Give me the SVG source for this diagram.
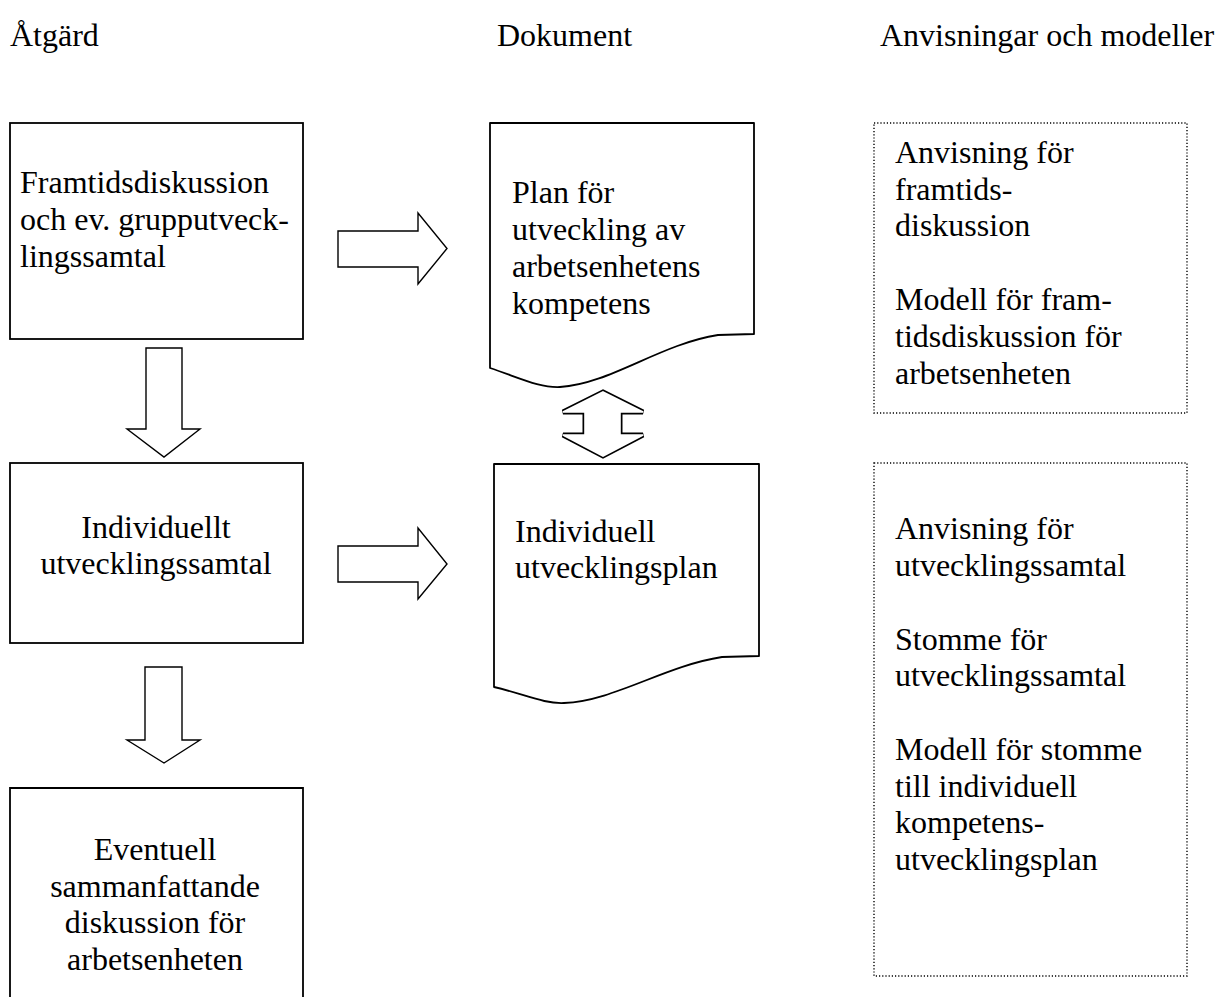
<svg xmlns="http://www.w3.org/2000/svg" width="1218" height="997" viewBox="0 0 1218 997">
  <style>
    text { font-family: "Liberation Serif", "Times New Roman", serif; font-size: 32px; fill: #000; }
    .box { fill: #fff; stroke: #000; stroke-width: 1.8; }
    .doc { fill: #fff; stroke: #000; stroke-width: 1.8; stroke-linejoin: round; }
    .note { fill: #fff; stroke: #000; stroke-width: 1.4; stroke-dasharray: 1.2 2; }
    .arrow { fill: #fff; stroke: #000; stroke-width: 1.4; stroke-linejoin: miter; }
    .mid { text-anchor: middle; }
  </style>

  <!-- column headings -->
  <g id="headings">
    <text x="10" y="46">Åtgärd</text>
    <text x="497" y="46">Dokument</text>
    <text x="880" y="46">Anvisningar och modeller</text>
  </g>

  <!-- actions -->
  <g id="action-framtid">
    <rect class="box" x="10" y="123" width="293" height="216"/>
    <text x="20" y="193">Framtidsdiskussion</text>
    <text x="20" y="230">och ev. grupputveck-</text>
    <text x="20" y="267">lingssamtal</text>
  </g>

  <g id="action-individuellt">
    <rect class="box" x="10" y="463" width="293" height="180"/>
    <text class="mid" x="156" y="538">Individuellt</text>
    <text class="mid" x="156" y="574">utvecklingssamtal</text>
  </g>

  <g id="action-sammanfattande">
    <path class="box" d="M10,1000 V788 H303 V1000"/>
    <text class="mid" x="155" y="860">Eventuell</text>
    <text class="mid" x="155" y="897">sammanfattande</text>
    <text class="mid" x="155" y="933">diskussion för</text>
    <text class="mid" x="155" y="970">arbetsenheten</text>
  </g>

  <!-- documents -->
  <g id="doc-plan">
    <path class="doc" d="M490,123 H754 V334 L718,335 C660,344 610,384 560,387 C540,388 520,378 490,368 Z"/>
    <text x="512" y="203">Plan för</text>
    <text x="512" y="240">utveckling av</text>
    <text x="512" y="277">arbetsenhetens</text>
    <text x="512" y="314">kompetens</text>
  </g>

  <g id="doc-individuell">
    <path class="doc" d="M494,464 H759 V656 L722,657 C664,666 614,701 564,703 C544,704 524,694 494,687 Z"/>
    <text x="515" y="542">Individuell</text>
    <text x="515" y="578">utvecklingsplan</text>
  </g>

  <!-- guidance and models -->
  <g id="notes-framtid">
    <rect class="note" x="874" y="123" width="313" height="290"/>
    <text x="895" y="163">Anvisning för</text>
    <text x="895" y="200">framtids-</text>
    <text x="895" y="236">diskussion</text>
    <text x="895" y="310">Modell för fram-</text>
    <text x="895" y="347">tidsdiskussion för</text>
    <text x="895" y="384">arbetsenheten</text>
  </g>

  <g id="notes-individuell">
    <rect class="note" x="874" y="463" width="313" height="513"/>
    <text x="895" y="539">Anvisning för</text>
    <text x="895" y="576">utvecklingssamtal</text>
    <text x="895" y="650">Stomme för</text>
    <text x="895" y="686">utvecklingssamtal</text>
    <text x="895" y="760">Modell för stomme</text>
    <text x="895" y="797">till individuell</text>
    <text x="895" y="833">kompetens-</text>
    <text x="895" y="870">utvecklingsplan</text>
  </g>

  <!-- block arrows between steps -->
  <g id="connectors">
    <polygon class="arrow" points="338,231 418,231 418,213 447,248.5 418,284 418,267 338,267"/>
    <polygon class="arrow" points="338,546 418,546 418,528 447,564 418,599 418,582 338,582"/>
    <polygon class="arrow" points="146,348 182,348 182,429 200,429 164,457 127,429 146,429"/>
    <polygon class="arrow" points="145,667 182,667 182,740 200,740 164,763 127,740 145,740"/>
    <!-- two-way arrow drawn with a double outline -->
    <polygon points="603,392 643,412 620,412 620,435 643,435 603,456 563,435 585,435 585,412 563,412" fill="#fff" stroke="#000" stroke-width="5" stroke-linejoin="miter"/>
    <polygon points="603,392 643,412 620,412 620,435 643,435 603,456 563,435 585,435 585,412 563,412" fill="#fff" stroke="#fff" stroke-width="1.6" stroke-linejoin="miter"/>
  </g>
</svg>
